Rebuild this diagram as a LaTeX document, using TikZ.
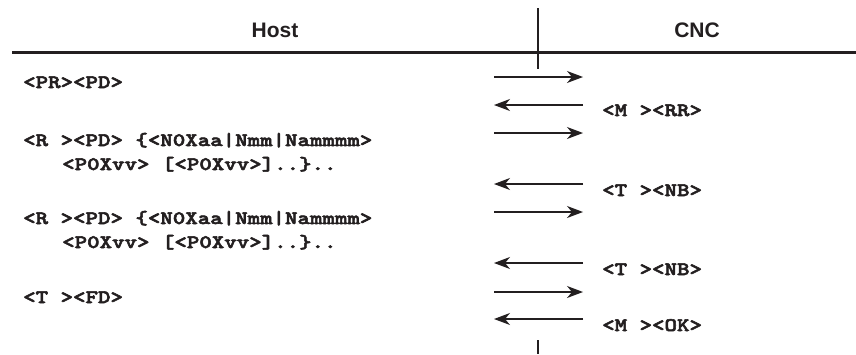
\documentclass[tikz,border=0pt]{standalone}
\usepackage{fontspec}
\usepackage{xcolor}
\usepackage{tikz}
\usetikzlibrary{positioning,arrows.meta}
\newfontfamily\hdrfont{Liberation Sans}
\newfontfamily\codefont[Extension=.otf, FakeStretch=1.25, FakeBold=3]{lmmonolt10-bold}
\definecolor{ink}{RGB}{35,31,32}
\tikzset{
    header/.style={font=\hdrfont\bfseries\fontsize{21}{24}\selectfont, text=ink, inner sep=0pt, anchor=base},
    code/.style={font=\codefont\fontsize{19}{24}\selectfont, text=ink, inner sep=0pt, anchor=base west},
    msg/.style={-{Stealth[length=16pt, width=12pt, inset=5pt]}, line width=1.3pt, draw=ink},
    rule/.style={draw=ink, line width=3pt},
    divider/.style={draw=ink, line width=2pt}
}
\begin{document}
\begin{tikzpicture}[x=1pt,y=-1pt]
\useasboundingbox (0,0) rectangle (856,354);
% column heads
\node[header] (host) at (275,37) {Host};
\node[header] (cnc) at (697,37) {CNC};
\coordinate (ruleL) at (12,52);
\coordinate (ruleR) at (856,52);
\draw[rule] (ruleL) -- (ruleR);
\coordinate (divTop) at (538,8);
\coordinate (divMid) at (538,69);
\coordinate (divLow) at (538,340);
\coordinate (divEnd) at (538,354);
\draw[divider] (divTop) -- (divMid);
\draw[divider] (divLow) -- (divEnd);
% host side
\node[code] (prpd) at (23,88) {<PR><PD>};
\node[code] (rpdA) at (23,146) {<R~><PD>~\{<N0Xaa|Nmm|Nammmm>};
\node[code] (pvvA) at (62,170) {<P0Xvv>~[<P0Xvv>]..\}..};
\node[code] (rpdB) at (23,224) {<R~><PD>~\{<N0Xaa|Nmm|Nammmm>};
\node[code] (pvvB) at (62,248) {<P0Xvv>~[<P0Xvv>]..\}..};
\node[code] (tfd) at (23,303) {<T~><FD>};
% cnc side
\node[code] (mrr) at (602,116) {<M~><RR>};
\node[code] (tnbA) at (602,196) {<T~><NB>};
\node[code] (tnbB) at (602,275) {<T~><NB>};
\node[code] (mok) at (602,331) {<M~><OK>};
% messages
\foreach \y [count=\i] in {77,133,212,292} {
    \coordinate (hs\i) at (494,\y);
    \coordinate (cs\i) at (583,\y);
    \draw[msg] (hs\i) -- (cs\i);
}
\foreach \y [count=\i] in {105,184,263,319} {
    \coordinate (hr\i) at (494,\y);
    \coordinate (cr\i) at (583,\y);
    \draw[msg] (cr\i) -- (hr\i);
}
\end{tikzpicture}
\end{document}
